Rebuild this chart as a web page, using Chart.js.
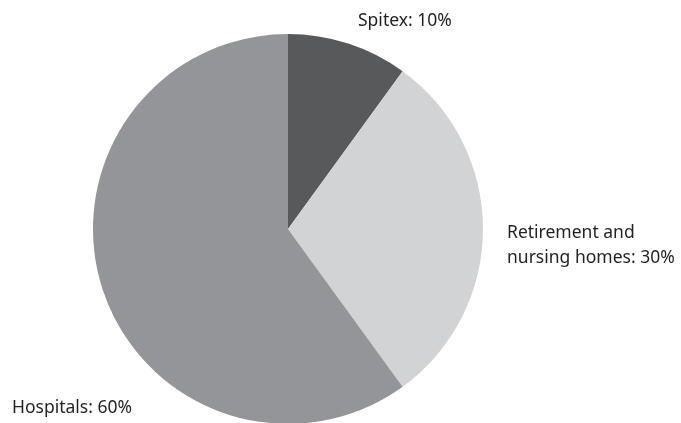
<!DOCTYPE html>
<html>
<head>
    <title>Care settings share</title>
    <script src="https://cdn.jsdelivr.net/npm/chart.js@4.4.0/dist/chart.umd.min.js"></script>
    <style>
        html, body { margin: 0; padding: 0; background: #fff; overflow: hidden; }
        #wrap { position: relative; width: 681px; height: 430px; }
    </style>
</head>
<body>
    <div id="wrap"><canvas id="pieChart"></canvas></div>

    <script>
        // Data
        const categories = ['Spitex', 'Retirement and nursing homes', 'Hospitals'];
        const shares = [10, 30, 60];
        const sliceColors = ['#58595b', '#d1d3d4', '#939598'];
        // label text lines (as printed next to each slice)
        const labelLines = [
            ['Spitex: 10%'],
            ['Retirement and', 'nursing homes: 30%'],
            ['Hospitals: 60%']
        ];
        // where each label sits (left x, first baseline y)
        const labelPos = [[358, 26], [507, 238], [12, 413]];

        const sliceLabels = {
            id: 'sliceLabels',
            afterDraw(chart) {
                const ctx = chart.ctx;
                ctx.save();
                ctx.font = '17.5px "Noto Sans"';
                ctx.fillStyle = '#231f20';
                ctx.textAlign = 'left';
                ctx.textBaseline = 'alphabetic';
                labelLines.forEach((lines, i) => {
                    lines.forEach((t, j) => {
                        ctx.fillText(t, labelPos[i][0], labelPos[i][1] + j * 25);
                    });
                });
                ctx.restore();
            }
        };

        new Chart(document.getElementById('pieChart'), {
            type: 'pie',
            data: {
                labels: categories,
                datasets: [{
                    data: shares,
                    backgroundColor: sliceColors,
                    borderWidth: 0
                }]
            },
            options: {
                responsive: true,
                maintainAspectRatio: false,
                animation: false,
                layout: { padding: { top: 34, bottom: 6, left: 93, right: 198 } },
                plugins: {
                    legend: { display: false },
                    tooltip: { enabled: false }
                }
            },
            plugins: [sliceLabels]
        });
    </script>
</body>
</html>
